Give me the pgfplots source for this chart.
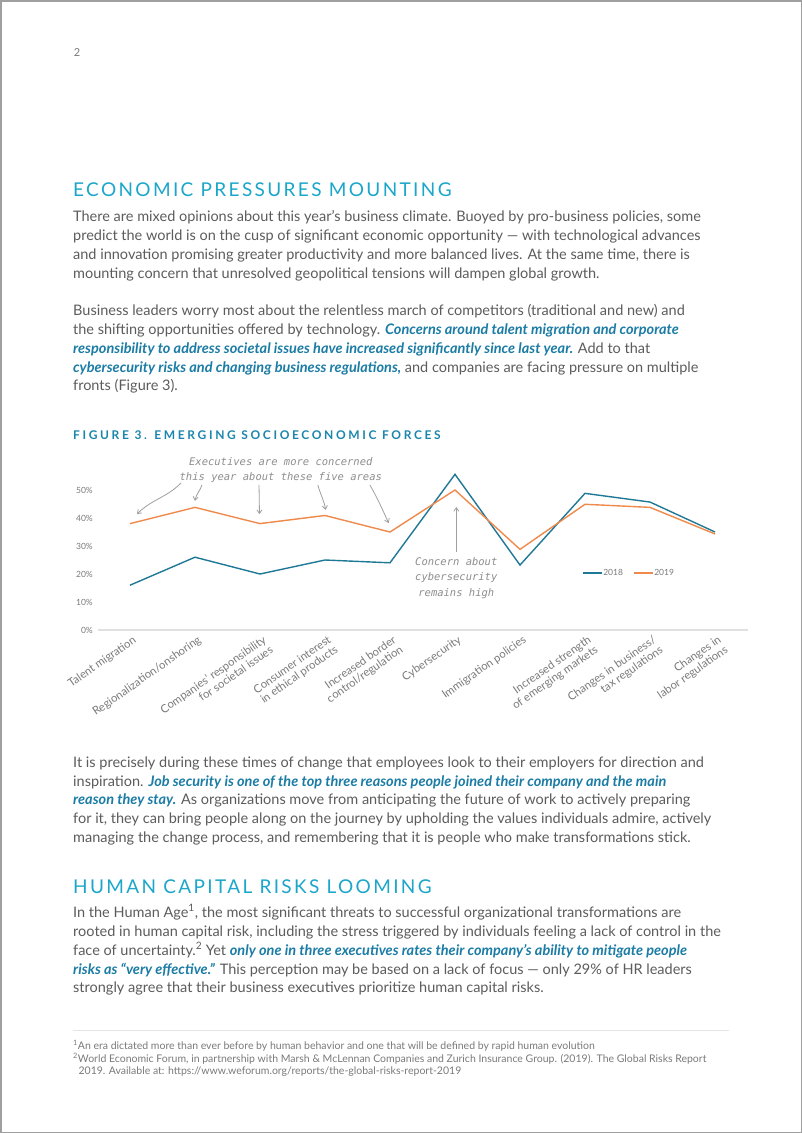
\documentclass[border=0pt]{standalone}
\usepackage{fontspec}
\setmainfont{Lato}
\newfontfamily\handfont{DejaVu Sans Mono}
\usepackage{pgfplots}
\pgfplotsset{compat=1.18}
\usetikzlibrary{arrows.meta}
\definecolor{bodygray}{HTML}{5C5C5C}
\definecolor{headcyan}{HTML}{1BA6CA}
\definecolor{hlblue}{HTML}{1B7CA5}
\definecolor{figblue}{HTML}{1B86AD}
\definecolor{c2018}{HTML}{1F7896}
\definecolor{c2019}{HTML}{EF8A4C}
\definecolor{anngray}{HTML}{8E8E8E}
\definecolor{ticgray}{HTML}{7A7A7A}
\newcommand{\hl}[1]{{\color{hlblue}\bfseries\itshape #1}}
\newcommand{\bl}[2]{\node[anchor=base west, inner sep=0pt, font=\fontsize{14.5bp}{19bp}\selectfont, text=bodygray] at (73bp,-#1bp) {#2};}
\newcommand{\fl}[2]{\node[anchor=base west, inner sep=0pt, font=\fontsize{10.5bp}{11bp}\selectfont, text=ticgray] at (73bp,-#1bp) {#2};}
\begin{document}
\begin{tikzpicture}
\useasboundingbox (0,0) rectangle (802bp,-1133bp);
\fill[white] (0,0) rectangle (802bp,-1133bp);
\draw[gray!75, line width=1.5bp] (0.75bp,-0.75bp) rectangle (801.25bp,-1132.25bp);
% page number
\node[anchor=base, inner sep=0pt, font=\fontsize{11bp}{12bp}\selectfont, text=ticgray] at (77bp,-56bp) {2};
% heading 1
\node[anchor=base west, inner sep=0pt, text=headcyan, font=\fontsize{19bp}{22bp}\selectfont\addfontfeature{LetterSpace=12.4}] at (73bp,-196bp) {ECONOMIC PRESSURES MOUNTING};
\bl{221}{There are mixed opinions about this year’s business climate. Buoyed by pro-business policies, some}
\bl{240}{predict the world is on the cusp of significant economic opportunity — with technological advances}
\bl{259}{and innovation promising greater productivity and more balanced lives. At the same time, there is}
\bl{278}{mounting concern that unresolved geopolitical tensions will dampen global growth.}
\bl{315}{Business leaders worry most about the relentless march of competitors (traditional and new) and}
\bl{334}{the shifting opportunities offered by technology. \hl{Concerns around talent migration and corporate}}
\bl{353}{\hl{responsibility to address societal issues have increased significantly since last year.} Add to that}
\bl{372}{\hl{cybersecurity risks and changing business regulations,} and companies are facing pressure on multiple}
\bl{390}{fronts (Figure 3).}
% figure title
\node[anchor=base west, inner sep=0pt, text=figblue, font=\fontsize{12bp}{13bp}\selectfont\bfseries\addfontfeature{LetterSpace=22}] at (73bp,-439bp) {FIGURE 3. EMERGING SOCIOECONOMIC FORCES};
% chart
\begin{axis}[
  at={(97.5bp,-630bp)}, anchor=south west,
  x=65bp, y=2.8bp,
  xmin=-0.5, xmax=9.5, ymin=0, ymax=56,
  clip=false,
  axis x line=bottom, axis y line=left,
  axis line style={-},
  x axis line style={draw=black!12, line width=1.2bp},
  y axis line style={draw=none},
  major tick length=0pt,
  xtick={0,...,9},
  xticklabels={Talent migration, Regionalization/onshoring, Companies’ responsibility\\for societal issues, Consumer interest\\in ethical products, Increased border\\control/regulation, Cybersecurity, Immigration policies, Increased strength\\of emerging markets, Changes in business/\\tax regulations, Changes in\\labor regulations},
  xticklabel style={font=\fontsize{11.3bp}{12bp}\selectfont, text=ticgray, rotate=35, anchor=north east, align=right, inner sep=1bp, xshift=0bp, yshift=-4bp},
  ytick={0,10,20,30,40,50},
  yticklabels={0\%,10\%,20\%,30\%,40\%,50\%},
  yticklabel style={font=\fontsize{8.5bp}{10bp}\selectfont, text=ticgray, anchor=east, inner sep=0pt, xshift=-4.5bp},
  legend style={at={(axis cs:6.95,20.4)}, anchor=west, draw=none, fill=none, font=\fontsize{8.5bp}{10bp}\selectfont, text=ticgray, legend columns=2, /tikz/every even column/.append style={column sep=9bp}, inner sep=0pt, nodes={inner sep=1bp}},
  legend image code/.code={\draw[#1, line width=1.3bp] (0bp,0bp) -- (19bp,0bp);},
]
\addplot[c2018, line width=1.4bp] coordinates {(0,16) (1,26) (2,20) (3,25) (4,24) (5,55.6) (6,23.2) (7,48.8) (8,45.7) (9,35)};
\addlegendentry{2018}
\addplot[c2019, line width=1.4bp] coordinates {(0,38) (1,43.8) (2,38) (3,40.9) (4,35) (5,50) (6,28.8) (7,44.9) (8,43.8) (9,34.3)};
\addlegendentry{2019}
% annotations
\node[align=center, text=anngray, font=\handfont\itshape\fontsize{10.5bp}{15bp}\selectfont, inner sep=0pt] at (axis cs:2.32,57.1) {Executives are more concerned\\this year about these five areas};
\node[align=center, text=anngray, font=\handfont\itshape\fontsize{10.5bp}{15.5bp}\selectfont, inner sep=0pt] at (axis cs:5.02,18.7) {Concern about\\cybersecurity\\remains high};
\begin{scope}[anngray!85, line width=0.8bp, -{Straight Barb[length=3.5bp, width=5bp]}]
\draw (axis cs:0.785,52.5) to[out=225, in=45] (axis cs:0.108,41.4);
\draw (axis cs:1.108,51.8) to[out=250, in=80] (axis cs:1.0,46.1);
\draw (axis cs:1.985,51.8) -- (axis cs:1.992,41.4);
\draw (axis cs:2.89,51.8) to[out=285, in=100] (axis cs:3.01,42.9);
\draw (axis cs:3.69,51.8) to[out=300, in=115] (axis cs:3.98,38.2);
\draw (axis cs:5.02,27.9) -- (axis cs:5.02,43.9);
\end{scope}
\end{axis}
% paragraph 3
\bl{767}{It is precisely during these times of change that employees look to their employers for direction and}
\bl{786}{inspiration. \hl{Job security is one of the top three reasons people joined their company and the main}}
\bl{804}{\hl{reason they stay.} As organizations move from anticipating the future of work to actively preparing}
\bl{823}{for it, they can bring people along on the journey by upholding the values individuals admire, actively}
\bl{842}{managing the change process, and remembering that it is people who make transformations stick.}
% heading 2
\node[anchor=base west, inner sep=0pt, text=headcyan, font=\fontsize{19bp}{22bp}\selectfont\addfontfeature{LetterSpace=12.4}] at (73bp,-893bp) {HUMAN CAPITAL RISKS LOOMING};
\bl{917}{In the Human Age\textsuperscript{1}, the most significant threats to successful organizational transformations are}
\bl{936}{rooted in human capital risk, including the stress triggered by individuals feeling a lack of control in the}
\bl{955}{face of uncertainty.\textsuperscript{2} Yet \hl{only one in three executives rates their company’s ability to mitigate people}}
\bl{974}{\hl{risks as “very effective.”} This perception may be based on a lack of focus — only 29\% of HR leaders}
\bl{992}{strongly agree that their business executives prioritize human capital risks.}
% footnotes
\draw[black!10, line width=1bp] (73bp,-1030.5bp) -- (729bp,-1030.5bp);
\fl{1049}{\textsuperscript{1}An era dictated more than ever before by human behavior and one that will be defined by rapid human evolution}
\fl{1062}{\textsuperscript{2}World Economic Forum, in partnership with Marsh \& McLennan Companies and Zurich Insurance Group. (2019). The Global Risks Report}
\fl{1074}{\ \ 2019. Available at: https://www.weforum.org/reports/the-global-risks-report-2019}
\end{tikzpicture}
\end{document}
